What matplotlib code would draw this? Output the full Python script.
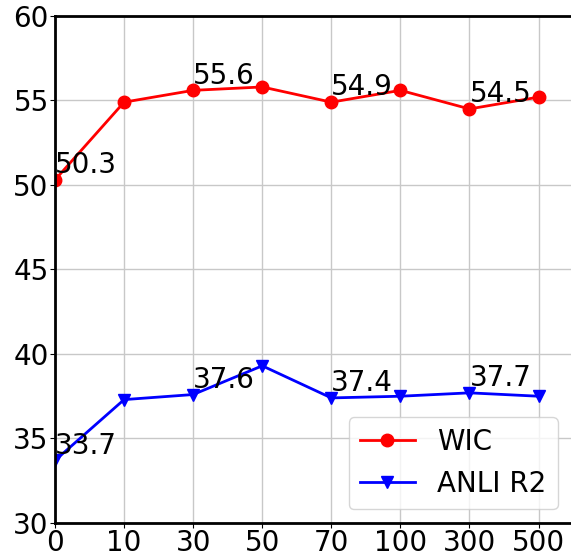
import matplotlib
matplotlib.use("Agg")
import matplotlib.pyplot as plt

x_labels = ["0", "10", "30", "50", "70", "100", "300", "500"]
wic = [50.3, 54.9, 55.6, 55.8, 54.9, 55.6, 54.5, 55.2]
anli = [33.7, 37.3, 37.6, 39.3, 37.4, 37.5, 37.7, 37.5]
annot_idx = [0, 2, 4, 6]

fig = plt.figure(figsize=(5.71, 5.55), dpi=100)
ax = fig.add_axes([0.0963, 0.0577, 0.905, 0.9135])
xs = list(range(len(x_labels)))

ax.plot(xs, wic, color="red", marker="o", markersize=9, linewidth=2, label="WIC")
ax.plot(xs, anli, color="blue", marker="v", markersize=9, linewidth=2, label="ANLI R2")

for i in annot_idx:
    ax.text(xs[i], wic[i] + 0.4, str(wic[i]), fontsize=20)
    ax.text(xs[i], anli[i] + 0.4, str(anli[i]), fontsize=20)

ax.set_xlim(0, 7.48)
ax.set_ylim(30, 60)
ax.set_xticks(xs)
ax.set_xticklabels(x_labels)
ax.set_yticks([30, 35, 40, 45, 50, 55, 60])
ax.tick_params(labelsize=20, pad=1)
ax.grid(True, color="#c8c8c8", linewidth=1)
ax.set_axisbelow(True)
for s in ["left", "bottom", "top"]:
    ax.spines[s].set_linewidth(2)
    ax.spines[s].set_color("black")
ax.spines["right"].set_visible(False)

ax.legend(loc="lower right", fontsize=20, bbox_to_anchor=(1.0, 0.0))

fig.savefig("out.png", dpi=100)
